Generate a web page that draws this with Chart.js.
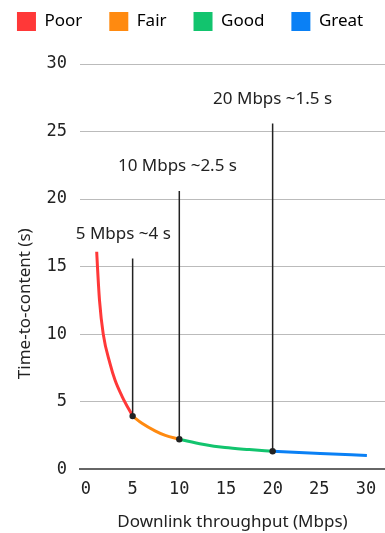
<!DOCTYPE html>
<html>
<head>
<meta charset="utf-8">
<script src="https://cdn.jsdelivr.net/npm/chart.js@4.4.1/dist/chart.umd.min.js"></script>
<style>
    body { margin: 0; background: #ffffff; overflow: hidden; }
    /* 4px wider than the window: chart.js keeps a small right gap we push past the edge */
    #chart_holder { width: 389px; height: 533px; position: relative; }
</style>
</head>
<body>
<div id="chart_holder"><canvas id="the_chart"></canvas></div>
<script>
// tier names and colours
var tier_names = ["Poor", "Fair", "Good", "Great"];
var tier_colors = ["#ff3838", "#ff8a10", "#12c46e", "#0a80f5"];

// curve readings, one array pair per tier (x = Mbps, y = seconds)
var poor_x = [1.15, 1.23, 1.45, 1.85, 2.57, 3.11, 3.89, 5];
var poor_y = [16.1, 15, 12.5, 10, 7.83, 6.6, 5.36, 3.93];
var fair_x = [5, 6, 7.4, 8.5, 10];
var fair_y = [3.93, 3.4, 2.84, 2.5, 2.22];
var good_x = [10, 12.5, 14.9, 17.5, 20];
var good_y = [2.22, 1.85, 1.6, 1.45, 1.33];
var great_x = [20, 25.1, 30.1];
var great_y = [1.33, 1.16, 1.02];

// marked throughputs
var mark_x = [5, 10, 20];
var mark_y = [3.93, 2.22, 1.33];
var mark_top = [15.6, 20.6, 25.6];
var mark_texts = ["5 Mbps ~4 s", "10 Mbps ~2.5 s", "20 Mbps ~1.5 s"];
var mark_text_x = [4.0, 9.8, 20];
var mark_text_y = [17.4, 22.4, 27.4];

var x_ticks = [0, 5, 10, 15, 20, 25, 30];
var y_ticks = [0, 5, 10, 15, 20, 25, 30];

var y_title = "Time-to-content (s)";
var y_title_at = 12.25; // the y title sits below the middle of the axis

function to_points(xs, ys){
    return xs.map(function(x, i){ return {x: x, y: ys[i]}; });
}

var tier_x = [poor_x, fair_x, good_x, great_x];
var tier_y = [poor_y, fair_y, good_y, great_y];

var datasets = [];
tier_names.forEach(function(name, i){
    datasets.push({
        label: name,
        in_legend: true,
        data: to_points(tier_x[i], tier_y[i]),
        borderColor: tier_colors[i],
        backgroundColor: tier_colors[i],
        borderWidth: 3,
        pointRadius: 0,
        cubicInterpolationMode: "monotone",
        order: 3
    });
});
mark_x.forEach(function(x, i){
    datasets.push({
        label: "drop " + x,
        data: [{x: x, y: mark_y[i]}, {x: x, y: mark_top[i]}],
        borderColor: "#222222",
        borderWidth: 1.5,
        pointRadius: 0,
        order: 2
    });
});
datasets.push({
    label: "marks",
    data: to_points(mark_x, mark_y),
    showLine: false,
    pointRadius: 3.2,
    pointBackgroundColor: "#222222",
    pointBorderWidth: 0,
    order: 1
});

// draws the text above each drop line and the y title, positioned through the scales
var mark_text_plugin = {
    id: "mark_texts",
    afterDatasetsDraw: function(chart){
        var ctx = chart.ctx;
        var xs = chart.scales.x, ys = chart.scales.y;
        ctx.save();
        ctx.font = '17px "Noto Sans"';
        ctx.fillStyle = "#222222";
        ctx.textAlign = "center";
        ctx.textBaseline = "middle";
        for(var i = 0; i < mark_texts.length; i++){
            ctx.fillText(mark_texts[i], xs.getPixelForValue(mark_text_x[i]), ys.getPixelForValue(mark_text_y[i]));
        }
        // y title, rotated, to the left of the tick labels
        ctx.translate(ys.left + 25, ys.getPixelForValue(y_title_at));
        ctx.rotate(-Math.PI / 2);
        ctx.fillText(y_title, 0, 0);
        ctx.restore();
    }
};

// give the legend some extra room below it
var legend_room_plugin = {
    id: "legend_room",
    beforeInit: function(chart){
        var original_fit = chart.legend.fit;
        chart.legend.fit = function(){
            original_fit.bind(chart.legend)();
            this.height += 23;
        };
    }
};

var ctx = document.getElementById("the_chart").getContext("2d");
var the_chart = new Chart(ctx, {
    type: "line",
    data: { datasets: datasets },
    plugins: [mark_text_plugin, legend_room_plugin],
    options: {
        responsive: true,
        maintainAspectRatio: false,
        animation: false,
        layout: { padding: { top: 0, left: 0, right: 0, bottom: 0 } },
        plugins: {
            tooltip: { enabled: false },
            legend: {
                position: "top",
                labels: {
                    boxWidth: 19,
                    boxHeight: 19,
                    padding: 12,
                    color: "#222222",
                    font: { family: "Noto Sans", size: 17 },
                    generateLabels: function(chart){
                        var items = [];
                        var shown = chart.data.datasets.filter(function(ds){ return ds.in_legend; });
                        chart.data.datasets.forEach(function(ds, i){
                            if(!ds.in_legend) return;
                            // trailing spaces widen the gap to the next item, and nudge the row left on the last one
                            var text = ds.label + (ds === shown[shown.length - 1] ? "  " : "   \u200A");
                            items.push({ text: text, fillStyle: ds.borderColor, strokeStyle: ds.borderColor, lineWidth: 0, hidden: false, datasetIndex: i });
                        });
                        return items;
                    }
                }
            }
        },
        scales: {
            x: {
                type: "linear",
                min: -0.64,
                max: 32.04,
                afterBuildTicks: function(scale){
                    scale.ticks = x_ticks.map(function(v){ return {value: v}; });
                },
                grid: { display: false, drawTicks: false },
                border: { display: true, color: "#666666", width: 2 },
                ticks: { padding: 10, color: "#222222", font: { family: "DejaVu Sans Mono", size: 17 } },
                title: { display: true, text: "Downlink throughput (Mbps)", color: "#222222", font: { family: "Noto Sans", size: 17 }, padding: { top: 2, bottom: 1 } }
            },
            y: {
                min: 0,
                max: 30,
                afterBuildTicks: function(scale){
                    scale.ticks = y_ticks.map(function(v){ return {value: v}; });
                },
                afterFit: function(scale){
                    scale.width = 80; // room for the y title drawn by the plugin
                },
                grid: { color: "#bbbbbb", lineWidth: 1, drawTicks: false },
                border: { display: false },
                ticks: { padding: 13, color: "#222222", font: { family: "DejaVu Sans Mono", size: 17 } },
                title: { display: false }
            }
        }
    }
});
</script>
</body>
</html>
